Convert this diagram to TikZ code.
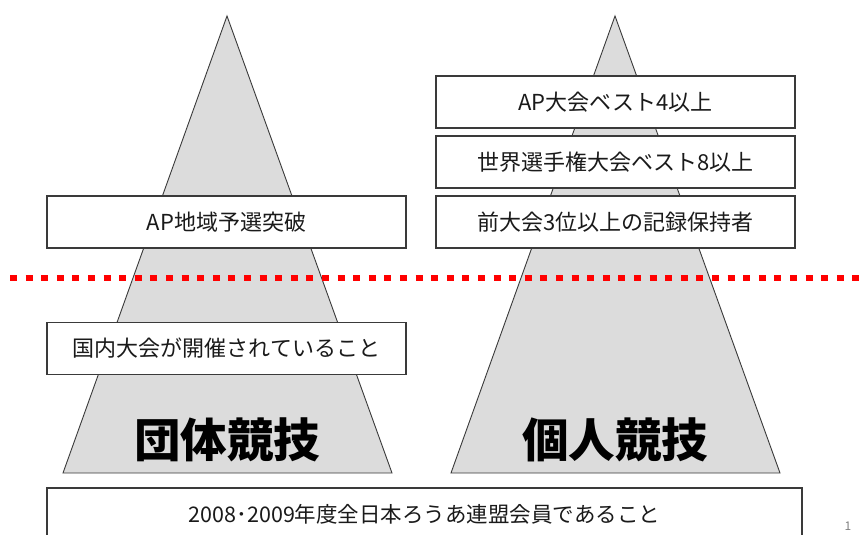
\documentclass[tikz,border=0pt]{standalone}
\usepackage{fontspec}
\setmainfont{Noto Sans CJK JP}
\definecolor{pyrfill}{HTML}{DCDCDC}
\definecolor{edge}{HTML}{3A3A3A}
\definecolor{txt}{HTML}{1A1A1A}
\tikzset{
  pyramid/.style={fill=pyrfill, draw=edge, line width=0.9pt, line join=miter},
  critbox/.style={draw=edge, fill=white, line width=1.4pt, rectangle, inner sep=0pt,
    minimum width=359pt, minimum height=52pt, text=txt, font=\fontsize{22}{25}\selectfont},
  bigtitle/.style={text=black, font=\fontsize{46.5}{50}\selectfont\bfseries, inner sep=0pt},
  cutline/.style={draw=red, line width=6.5pt, dash pattern=on 7pt off 8.6pt}
}
\begin{document}
\begin{tikzpicture}[x=1pt,y=-1pt]
\useasboundingbox (0,0) rectangle (862,535);
\clip (0,0) rectangle (862,535);
% pyramids
\coordinate (Lapex) at (227,16);
\coordinate (Lbl) at (63,473);
\coordinate (Lbr) at (392,473);
\coordinate (Rapex) at (615,16);
\coordinate (Rbl) at (451,473);
\coordinate (Rbr) at (780,473);
\draw[pyramid] (Lapex) -- (Lbr) -- (Lbl) -- cycle;
\draw[pyramid] (Rapex) -- (Rbr) -- (Rbl) -- cycle;
% red dotted line
\coordinate (cutL) at (10,278);
\coordinate (cutR) at (870,278);
\draw[cutline] (cutL) -- (cutR);
% boxes
\node[critbox] (ap) at (226.5,222) {AP地域予選突破};
\node[critbox] (dom) at (226.5,348.5) {国内大会が開催されていること};
\node[critbox] (ap4) at (615.5,102) {AP大会ベスト4以上};
\node[critbox] (wc8) at (615.5,162) {世界選手権大会ベスト8以上};
\node[critbox] (prev) at (615.5,222) {前大会3位以上の記録保持者};
\node[critbox, minimum width=755pt, font=\fontsize{21.5}{25}\selectfont] (member) at (424.5,514) {2008･2009年度全日本ろうあ連盟会員であること};
% titles
\node[bigtitle] (team) at (227,440) {団体競技};
\node[bigtitle] (indiv) at (615,440) {個人競技};
% page number
\node[text=gray, font=\fontsize{12}{14}\selectfont, inner sep=0pt] (pg) at (848,526) {1};
\end{tikzpicture}
\end{document}
